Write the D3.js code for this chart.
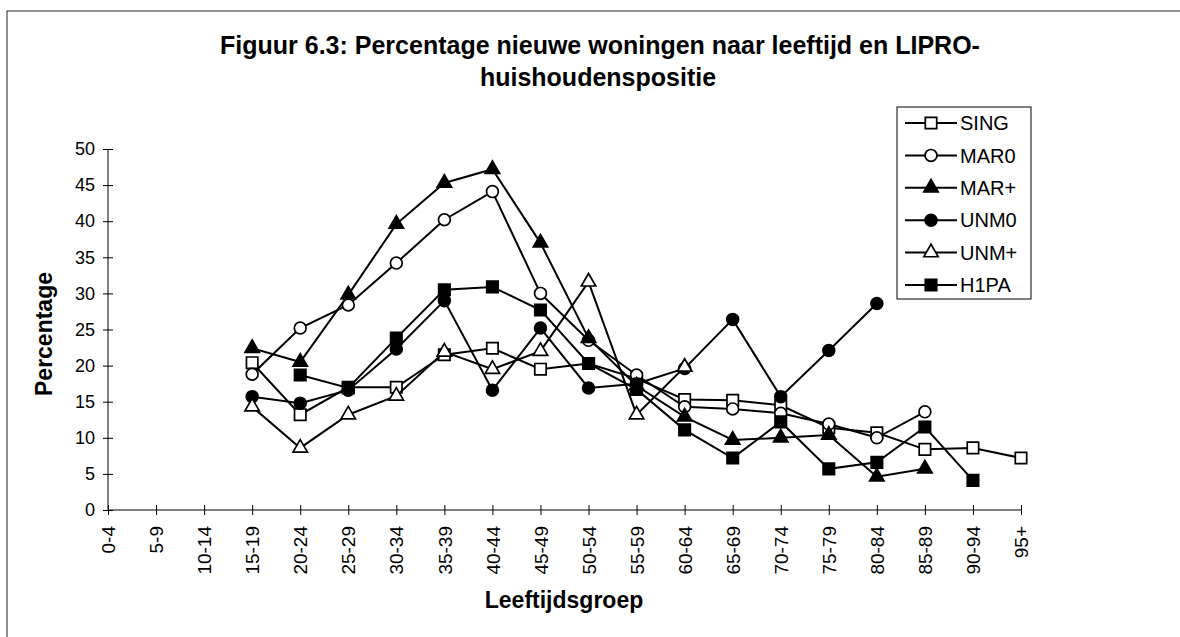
<!DOCTYPE html>
<html>
<head>
<meta charset="utf-8">
<title>Figuur 6.3</title>
<script src="https://d3js.org/d3.v7.min.js"></script>
<style>
  body { margin: 0; background: #fff; }
  svg { display: block; font-family: "Liberation Sans", Arial, sans-serif; }
</style>
</head>
<body>
<div id="chart"></div>
<script>
// age groups (x categories)
var leeftijd = ["0-4","5-9","10-14","15-19","20-24","25-29","30-34","35-39","40-44","45-49",
                "50-54","55-59","60-64","65-69","70-74","75-79","80-84","85-89","90-94","95+"];

// series values, percentage per age group (null = no value)
var sing = [null,null,null,20.4,13.2,17.0,17.0,21.5,22.4,19.5,20.3,18.2,15.3,15.2,14.5,11.4,10.7,8.4,8.6,7.2];
var mar0 = [null,null,null,18.8,25.2,28.4,34.2,40.2,44.1,30.0,23.5,18.7,14.3,14.0,13.4,11.9,10.0,13.6,null,null];
var marP = [null,null,null,22.4,20.5,29.8,39.6,45.3,47.2,37.0,23.8,17.2,12.9,9.7,10.0,10.4,4.6,5.7,null,null];
var unm0 = [null,null,null,15.7,14.8,16.6,22.3,29.0,16.6,25.2,16.9,17.5,19.6,26.4,15.7,22.1,28.6,null,null,null];
var unmP = [null,null,null,14.3,8.6,13.2,15.8,21.9,19.5,22.0,31.6,13.2,19.8,null,null,null,null,null,null,null];
var h1pa = [null,null,null,null,18.7,16.9,23.8,30.5,30.9,27.7,20.3,16.7,11.1,7.2,12.2,5.7,6.6,11.5,4.1,null];

var seriesNames = ["SING","MAR0","MAR+","UNM0","UNM+","H1PA"];
var yTicks = [0,5,10,15,20,25,30,35,40,45,50];

var series = [
  {name: seriesNames[0], values: sing, shape: "square",   fill: "#fff"},
  {name: seriesNames[1], values: mar0, shape: "circle",   fill: "#fff"},
  {name: seriesNames[2], values: marP, shape: "triangle", fill: "#000"},
  {name: seriesNames[3], values: unm0, shape: "circle",   fill: "#000"},
  {name: seriesNames[4], values: unmP, shape: "triangle", fill: "#fff"},
  {name: seriesNames[5], values: h1pa, shape: "square",   fill: "#000"}
];

var W = 1180, H = 637;
var svg = d3.select("#chart").append("svg").attr("width", W).attr("height", H);

// outer frame (runs off the page on the right / bottom)
svg.append("rect").attr("x", 7).attr("y", 11).attr("width", 1200).attr("height", 700)
   .attr("fill", "none").attr("stroke", "#222").attr("stroke-width", 1);

// title
var title = svg.append("text").attr("text-anchor", "middle")
   .attr("font-weight", "bold").attr("font-size", 25).attr("fill", "#000");
title.append("tspan").attr("x", 600).attr("y", 54).text("Figuur 6.3: Percentage nieuwe woningen naar leeftijd en LIPRO-");
title.append("tspan").attr("x", 598).attr("y", 86).text("huishoudenspositie");

var x = d3.scalePoint().domain(leeftijd).range([108, 1021]);
var y = d3.scaleLinear().domain([0, 50]).range([510, 149]);

// y axis
var yAxis = svg.append("g").attr("transform", "translate(108,0)")
   .call(d3.axisLeft(y).tickValues(yTicks).tickSize(5).tickPadding(8));
yAxis.select(".domain").attr("d", "M0," + y(50) + "V" + y(0)).attr("stroke", "#000");
yAxis.selectAll(".tick line").attr("x1", 5).attr("x2", -5).attr("stroke", "#000");
yAxis.selectAll(".tick text").attr("font-size", 18).attr("font-family", null).attr("fill", "#000");

// x axis
var xAxis = svg.append("g").attr("transform", "translate(0,510)")
   .call(d3.axisBottom(x).tickSize(5));
xAxis.select(".domain").attr("d", "M108,0H1021").attr("stroke", "#000");
xAxis.selectAll(".tick line").attr("y1", -5).attr("y2", 5).attr("stroke", "#000");
xAxis.selectAll(".tick text")
   .attr("font-size", 19).attr("font-family", null).attr("fill", "#000")
   .attr("transform", "rotate(-90)")
   .attr("text-anchor", "end")
   .attr("x", -16).attr("y", 0).attr("dy", "0.35em");

// axis titles
svg.append("text").attr("x", 564).attr("y", 608).attr("text-anchor", "middle")
   .attr("font-weight", "bold").attr("font-size", 23).text("Leeftijdsgroep");
svg.append("text").attr("transform", "translate(52,334) rotate(-90)").attr("text-anchor", "middle")
   .attr("font-weight", "bold").attr("font-size", 23).text("Percentage");

// marker symbols
function symbolPath(shape) {
  if (shape === "square") return d3.symbol().type(d3.symbolSquare).size(130)();
  if (shape === "circle") return d3.symbol().type(d3.symbolCircle).size(110)();
  return d3.symbol().type(d3.symbolTriangle).size(90)();
}

var line = d3.line()
   .defined(function(d) { return d != null; })
   .x(function(d, i) { return x(leeftijd[i]); })
   .y(function(d) { return y(d); });

series.forEach(function(s) {
  var g = svg.append("g");
  g.append("path").attr("d", line(s.values))
   .attr("fill", "none").attr("stroke", "#000").attr("stroke-width", 2);
  g.selectAll("path.m")
   .data(s.values.map(function(v, i) { return {v: v, c: leeftijd[i]}; })
                 .filter(function(d) { return d.v != null; }))
   .enter().append("path").attr("class", "m")
   .attr("d", symbolPath(s.shape))
   .attr("transform", function(d) { return "translate(" + x(d.c) + "," + y(d.v) + ")"; })
   .attr("fill", s.fill).attr("stroke", "#000").attr("stroke-width", 1.7);
});

// legend
var lg = svg.append("g");
lg.append("rect").attr("x", 897).attr("y", 107).attr("width", 134).attr("height", 192)
  .attr("fill", "#fff").attr("stroke", "#000").attr("stroke-width", 1);
series.forEach(function(s, k) {
  var ly = 123 + k * 32.4;
  lg.append("line").attr("x1", 905).attr("x2", 957).attr("y1", ly).attr("y2", ly)
    .attr("stroke", "#000").attr("stroke-width", 2);
  lg.append("path").attr("d", symbolPath(s.shape))
    .attr("transform", "translate(931," + ly + ")")
    .attr("fill", s.fill).attr("stroke", "#000").attr("stroke-width", 1.7);
  lg.append("text").attr("x", 960).attr("y", ly).attr("dy", "0.36em")
    .attr("font-size", 20).text(s.name);
});
</script>
</body>
</html>
